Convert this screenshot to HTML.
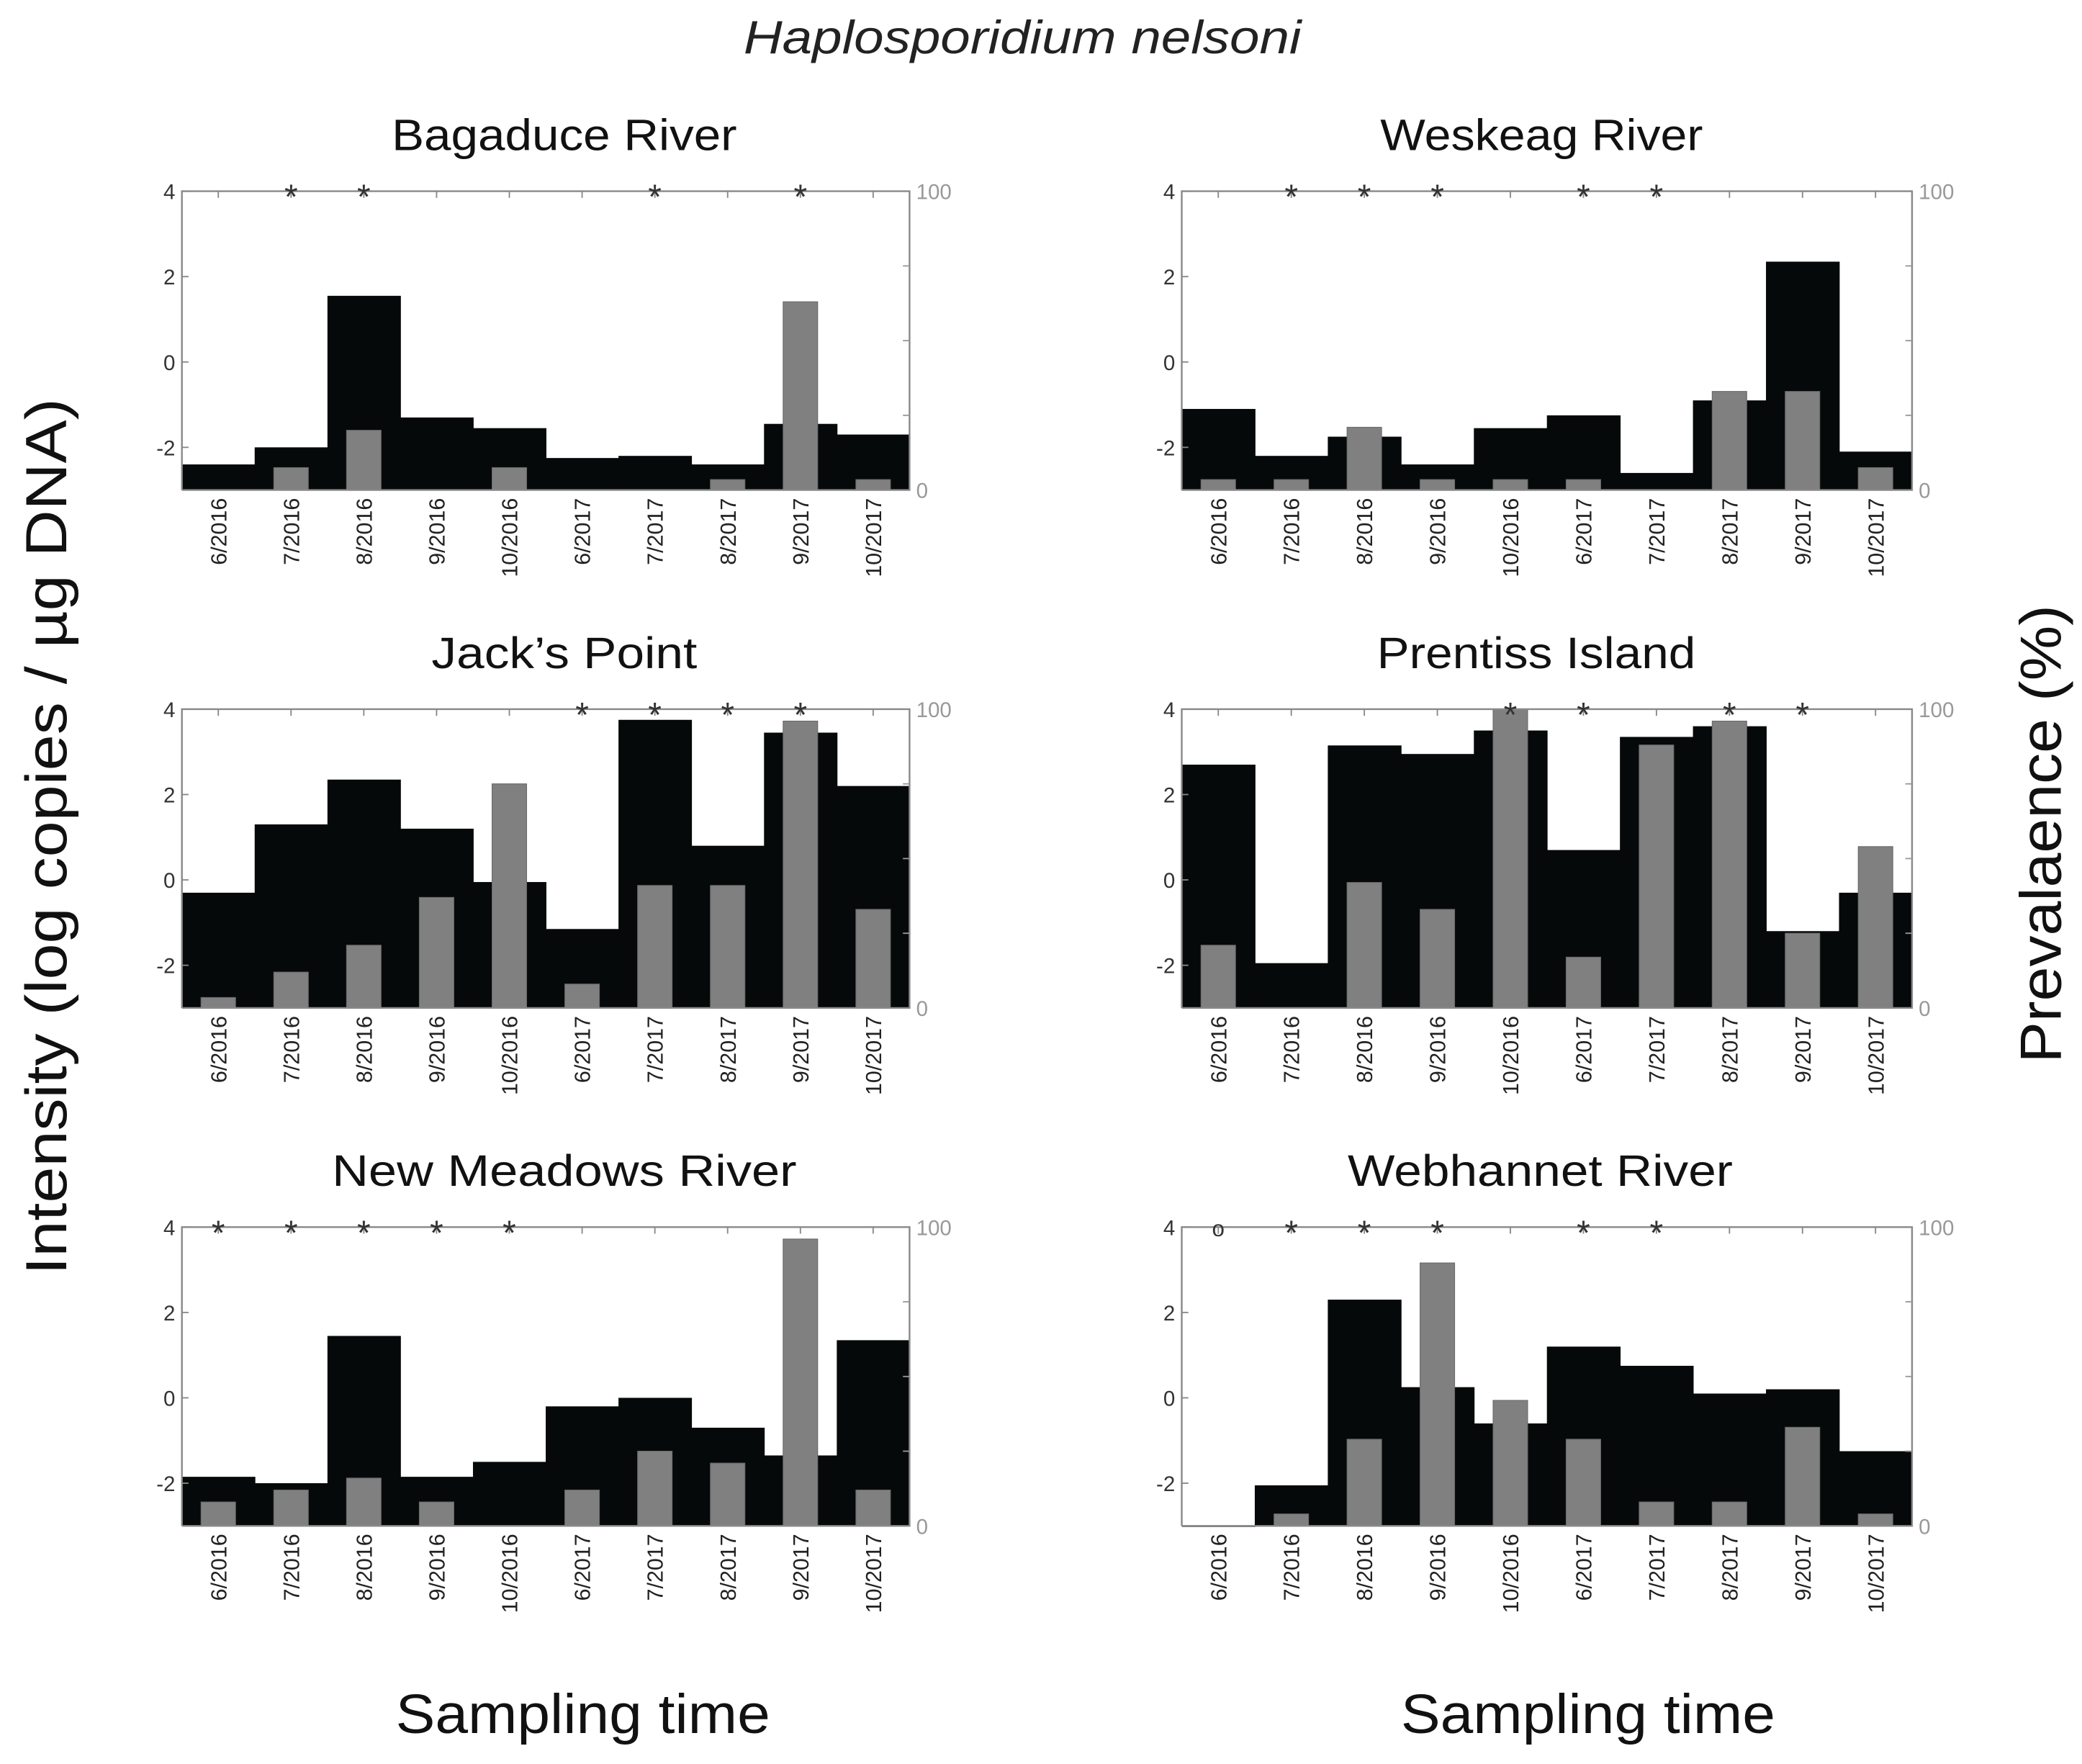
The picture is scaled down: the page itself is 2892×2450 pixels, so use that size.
<!DOCTYPE html>
<html><head><meta charset="utf-8"><style>
html,body{margin:0;padding:0;background:#fff}
svg{display:block}
text{font-family:"Liberation Sans",sans-serif}
</style></head><body>
<svg id="fig" xmlns="http://www.w3.org/2000/svg" width="2892" height="2450" viewBox="0 0 1568 1328.3" preserveAspectRatio="none">
<text x="770" y="40" text-anchor="middle" font-size="35" font-style="italic" textLength="420" lengthAdjust="spacingAndGlyphs" fill="#222">Haplosporidium nelsoni</text>
<text transform="translate(50,630) rotate(-90)" text-anchor="middle" font-size="44" textLength="660" lengthAdjust="spacingAndGlyphs" fill="#111">Intensity (log copies / µg DNA)</text>
<text transform="translate(1552,628) rotate(-90)" text-anchor="middle" font-size="44" textLength="345" lengthAdjust="spacingAndGlyphs" fill="#111">Prevalaence (%)</text>
<text x="439" y="1305" text-anchor="middle" font-size="42" textLength="282" lengthAdjust="spacingAndGlyphs" fill="#111">Sampling time</text>
<text x="1196" y="1305" text-anchor="middle" font-size="42" textLength="282" lengthAdjust="spacingAndGlyphs" fill="#111">Sampling time</text>
<g id="panels"></g>
</svg>
<script>
const categories = ["6/2016","7/2016","8/2016","9/2016","10/2016","6/2017","7/2017","8/2017","9/2017","10/2017"];
const siteNames = ["Bagaduce River","Weskeag River","Jack’s  Point","Prentiss Island","New  Meadows River","Webhannet River"];
const intensityBagaduce = [-2.4,-2.0,1.55,-1.3,-1.55,-2.25,-2.2,-2.4,-1.45,-1.7];
const intensityWeskeag = [-1.1,-2.2,-1.75,-2.4,-1.55,-1.25,-2.6,-0.9,2.35,-2.1];
const intensityJacks = [-0.3,1.3,2.35,1.2,-0.05,-1.15,3.75,0.8,3.45,2.2];
const intensityPrentiss = [2.7,-1.95,3.15,2.95,3.5,0.7,3.35,3.6,-1.2,-0.3];
const intensityNewMeadows = [-1.85,-2.0,1.45,-1.85,-1.5,-0.2,0.0,-0.7,-1.35,1.35];
const intensityWebhannet = [-3,-2.05,2.3,0.25,-0.6,1.2,0.75,0.1,0.2,-1.25];
const prevBagaduce = [0,7.5,20,0,7.5,0,0,3.5,63,3.5];
const prevWeskeag = [3.5,3.5,21,3.5,3.5,3.5,0,33,33,7.5];
const prevJacks = [3.5,12,21,37,75,8,41,41,96,33];
const prevPrentiss = [21,0,42,33,100,17,88,96,25,54];
const prevNewMeadows = [8,12,16,8,0,12,25,21,96,12];
const prevWebhannet = [0,4,29,88,42,29,8,8,33,4];
const marksBagaduce = ["","*","*","","","","*","","*",""];
const marksWeskeag = ["","*","*","*","","*","*","","",""];
const marksJacks = ["","","","","","*","*","*","*",""];
const marksPrentiss = ["","","","","*","*","","*","*",""];
const marksNewMeadows = ["*","*","*","*","*","","","","",""];
const marksWebhannet = ["o","*","*","*","","*","*","","",""];
const yTicks = [4,2,0,-2];
const prevTicks = [100,0];

const titleWidths=[260,243,200,240,350,290];
const titleCenters=[425,1161,425,1157,425,1160];
const intensities=[intensityBagaduce,intensityWeskeag,intensityJacks,intensityPrentiss,intensityNewMeadows,intensityWebhannet];
const prevs=[prevBagaduce,prevWeskeag,prevJacks,prevPrentiss,prevNewMeadows,prevWebhannet];
const marks=[marksBagaduce,marksWeskeag,marksJacks,marksPrentiss,marksNewMeadows,marksWebhannet];
const NS="http://www.w3.org/2000/svg";
const root=document.getElementById('panels');
function mk(tag,attrs,parent){const e=document.createElementNS(NS,tag);for(const k in attrs)e.setAttribute(k,attrs[k]);parent.appendChild(e);return e;}

for(let p=0;p<6;p++){
  const col=p%2,row=Math.floor(p/2);
  const x0=col?890:137,x1=col?1440:685;
  const top=[144,534,924][row],bot=top+225;
  const yS=v=>bot-(v+3)/7*(bot-top);
  const pS=v=>bot-v/100*(bot-top);
  const step=(x1-x0)/categories.length;
  const xC=i=>x0+step*(i+0.5);
  const g=mk('g',{},root);
  
  
  const t=mk('text',{x:titleCenters[p],y:top-31,'text-anchor':'middle','font-size':33,fill:'#111',textLength:titleWidths[p],lengthAdjust:'spacingAndGlyphs'},g);
  t.textContent=siteNames[p];
  
  
  intensities[p].forEach((v,i)=>{
    const y=yS(v);
    const r=mk('rect',{x:x0+step*i,y:y,width:step+0.5,height:Math.max(bot-y,0.8),fill:'#060909'},g);
    
    
  });
  prevs[p].forEach((v,i)=>{
    if(v<=0)return;
    const y=pS(v);
    const r=mk('rect',{x:xC(i)-13,y:y,width:26,height:bot-y,fill:'#808080',stroke:'#6a6a6a','stroke-width':0.6},g);
    
    
  });
  const fr=mk('path',{d:`M${x0},${bot}V${top}H${x1}V${bot}H${x0}`,fill:'none',stroke:'#888','stroke-width':1.3},g);
  
  
  categories.forEach((c,i)=>{mk('line',{x1:xC(i),x2:xC(i),y1:top,y2:top+5,stroke:'#888','stroke-width':1},g);});
  yTicks.forEach(v=>{
    const y=yS(v);
    mk('line',{x1:x0,x2:x0+5,y1:y,y2:y,stroke:'#888','stroke-width':1},g);
    const tt=mk('text',{x:x0-5,y:y+6,'text-anchor':'end','font-size':16,fill:'#333'},g);
    tt.textContent=v;
    
    
  });
  [75,50,25].forEach(v=>{const y=pS(v);mk('line',{x1:x1-5,x2:x1,y1:y,y2:y,stroke:'#999','stroke-width':1},g);});
  prevTicks.forEach(v=>{
    const tt=mk('text',{x:x1+5,y:pS(v)+6,'font-size':16,fill:'#999'},g);
    tt.textContent=v;
    
    
  });
  categories.forEach((c,i)=>{
    const tt=mk('text',{transform:`translate(${xC(i)+6},${bot+6}) rotate(-90)`,'text-anchor':'end','font-size':16.5,fill:'#222'},g);
    tt.textContent=c;
    
    
  });
  marks[p].forEach((m,i)=>{
    if(!m)return;
    const tt=mk('text',{x:xC(i),y:m==='o'?top+7:top+13,'text-anchor':'middle','font-size':m==='o'?17:26,fill:'#333'},g);
    tt.textContent=m;
    
    
  });
}
</script>
</body></html>
